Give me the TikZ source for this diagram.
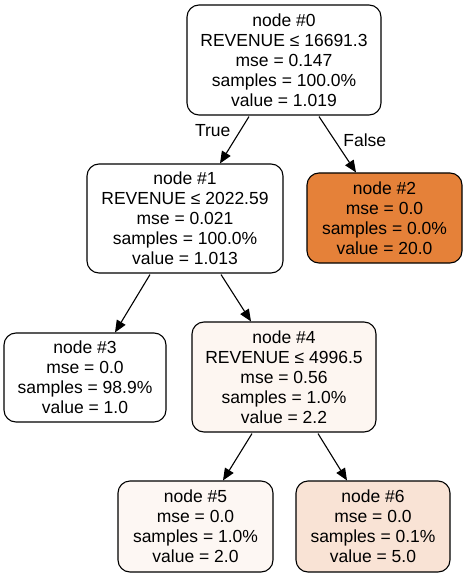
\documentclass[tikz,border=0pt]{standalone}
\usepackage{fontspec}
\setmainfont{Liberation Sans}
\usetikzlibrary{arrows.meta}
\definecolor{leafor}{HTML}{E58139}
\definecolor{cfour}{HTML}{FDF6F1}
\definecolor{cfive}{HTML}{FDF7F3}
\definecolor{csix}{HTML}{F9E3D5}
\tikzset{
  treenode/.style={draw=black, line width=1.1pt, rounded corners=12pt, align=center,
    inner sep=0pt, font=\fontsize{17.5}{20}\selectfont, text=black},
  arr/.style={line width=1.1pt, -{Triangle[length=12pt,width=10pt]}},
  edgelbl/.style={font=\fontsize{17.5}{20}\selectfont}
}
\begin{document}
\begin{tikzpicture}[x=1pt,y=-1pt]
\useasboundingbox (0,0) rectangle (466,577);
\node[treenode, minimum width=194pt, minimum height=110pt] (n0) at (284,60)
  {node \#0\\REVENUE ≤ 16691.3\\mse = 0.147\\samples = 100.0\%\\value = 1.019};
\node[treenode, minimum width=196pt, minimum height=109pt] (n1) at (185,218.5)
  {node \#1\\REVENUE ≤ 2022.59\\mse = 0.021\\samples = 100.0\%\\value = 1.013};
\node[treenode, fill=leafor, minimum width=155pt, minimum height=90pt] (n2) at (384.5,218)
  {node \#2\\mse = 0.0\\samples = 0.0\%\\value = 20.0};
\node[treenode, minimum width=162pt, minimum height=89pt] (n3) at (85,377.5)
  {node \#3\\mse = 0.0\\samples = 98.9\%\\value = 1.0};
\node[treenode, fill=cfour, minimum width=184pt, minimum height=110pt] (n4) at (284,377)
  {node \#4\\REVENUE ≤ 4996.5\\mse = 0.56\\samples = 1.0\%\\value = 2.2};
\node[treenode, fill=cfive, minimum width=155pt, minimum height=91pt] (n5) at (195.5,526.5)
  {node \#5\\mse = 0.0\\samples = 1.0\%\\value = 2.0};
\node[treenode, fill=csix, minimum width=154pt, minimum height=91pt] (n6) at (373,526.5)
  {node \#6\\mse = 0.0\\samples = 0.1\%\\value = 5.0};
\draw[arr] ([xshift=-35pt,yshift=-1pt]n0.south) -- ([xshift=35pt]n1.north) node[pos=0.3, edgelbl, left=6pt] (tl) {True};
\draw[arr] ([xshift=35pt,yshift=-1pt]n0.south) -- ([xshift=-28.5pt]n2.north) node[pos=0.42, edgelbl, right=5pt] (fl) {False};
\draw[arr] ([xshift=-35pt,yshift=-1pt]n1.south) -- ([xshift=30pt]n3.north);
\draw[arr] ([xshift=36pt,yshift=-1pt]n1.south) -- ([xshift=-33pt]n4.north);
\draw[arr] ([xshift=-32pt,yshift=-1pt]n4.south) -- ([xshift=27.5pt]n5.north);
\draw[arr] ([xshift=34pt,yshift=-1pt]n4.south) -- ([xshift=-26pt]n6.north);
\end{tikzpicture}
\end{document}
